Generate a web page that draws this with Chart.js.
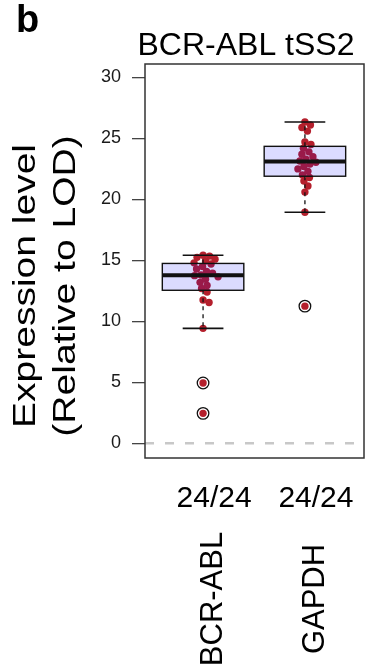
<!DOCTYPE html>
<html>
<head>
<meta charset="utf-8">
<script src="https://cdn.jsdelivr.net/npm/chart.js@4.4.1/dist/chart.umd.min.js"></script>
<style>
  html, body { margin: 0; padding: 0; background: #fff; }
  #wrap { width: 390px; height: 671px; position: relative; }
</style>
</head>
<body>
<div id="wrap"><canvas id="exprChart"></canvas></div>
<script>
const categories = ['BCR-ABL', 'GAPDH'];
const detectedLabels = ['24/24', '24/24'];
const bcrAblValues = [2.46, 4.95, 9.43, 11.55, 11.75, 12.4, 12.7, 12.95, 13.2, 13.45, 13.65, 13.75,
                      13.8, 13.95, 14.1, 14.3, 14.5, 14.7, 14.8, 14.95, 15.1, 15.25, 15.35, 15.42];
const gapdhValues = [11.25, 18.95, 20.6, 21.1, 21.5, 21.8, 22.0, 22.3, 22.5, 22.7, 22.9, 23.05,
                     23.15, 23.3, 23.5, 23.7, 23.9, 24.2, 24.5, 24.7, 25.6, 25.9, 26.1, 26.35];
const yTicks = [0, 5, 10, 15, 20, 25, 30];
const lodLevel = 0;

const groups = [bcrAblValues, gapdhValues];
const FONT = '"Liberation Sans", Arial, Helvetica, sans-serif';

// Tukey five-number summary, same hinges as R's fivenum()
function fivenum(vals) {
  const x = vals.slice().sort((a, b) => a - b);
  const n = x.length;
  const n4 = Math.floor((n + 3) / 2) / 2;
  const d = [1, n4, (n + 1) / 2, n + 1 - n4, n];
  return d.map(p => 0.5 * (x[Math.floor(p) - 1] + x[Math.ceil(p) - 1]));
}

function boxStats(vals) {
  const f = fivenum(vals);
  const q1 = f[1], med = f[2], q3 = f[3];
  const iqr = q3 - q1;
  const inside = vals.filter(v => v >= q1 - 1.5 * iqr && v <= q3 + 1.5 * iqr);
  return {
    q1, med, q3,
    lo: Math.min(...inside),
    hi: Math.max(...inside),
    outliers: vals.filter(v => v < q1 - 1.5 * iqr || v > q3 + 1.5 * iqr)
  };
}

const stats = groups.map(boxStats);

// beeswarm layout in pixel space: each point slides sideways until it stops overlapping
function swarm(pixYs, minDist) {
  const placed = [];
  const out = new Array(pixYs.length).fill(0);
  const order = pixYs.map((y, i) => i).sort((a, b) => pixYs[a] - pixYs[b]);
  for (const i of order) {
    const y = pixYs[i];
    for (let k = 0; k < 400; k++) {
      const dx = k === 0 ? 0 : (k % 2 ? 1 : -1) * Math.ceil(k / 2) * 0.5;
      const ok = placed.every(p => (dx - p.dx) ** 2 + (y - p.y) ** 2 >= minDist * minDist);
      if (ok) { out[i] = dx; placed.push({ dx, y }); break; }
    }
  }
  return out;
}

const boxOverlay = {
  id: 'boxOverlay',
  beforeDatasetsDraw(chart) {
    const { ctx, chartArea: a, scales: { y } } = chart;
    // dashed limit-of-detection line
    const py = y.getPixelForValue(lodLevel);
    ctx.save();
    ctx.strokeStyle = '#c8c8c8';
    ctx.lineWidth = 2.5;
    ctx.setLineDash([9, 11]);
    ctx.beginPath();
    ctx.moveTo(a.left, py);
    ctx.lineTo(a.right, py);
    ctx.stroke();
    ctx.restore();
  },
  afterDatasetsDraw(chart) {
    const { ctx, chartArea: a, scales: { x, y } } = chart;
    const unit = x.getPixelForValue(1) - x.getPixelForValue(0);
    ctx.save();
    stats.forEach((s, i) => {
      const cx = x.getPixelForValue(i + 1);
      const hw = unit * 0.4;
      const cw = unit * 0.2;
      const top = y.getPixelForValue(s.q3);
      const bot = y.getPixelForValue(s.q1);
      // whiskers
      ctx.strokeStyle = '#111';
      ctx.lineWidth = 1.3;
      ctx.setLineDash([4, 4]);
      ctx.beginPath();
      ctx.moveTo(cx, top); ctx.lineTo(cx, y.getPixelForValue(s.hi));
      ctx.moveTo(cx, bot); ctx.lineTo(cx, y.getPixelForValue(s.lo));
      ctx.stroke();
      ctx.setLineDash([]);
      ctx.lineWidth = 1.6;
      ctx.beginPath();
      [s.hi, s.lo].forEach(v => {
        const p = y.getPixelForValue(v);
        ctx.moveTo(cx - cw, p); ctx.lineTo(cx + cw, p);
      });
      ctx.stroke();
      // box
      ctx.fillStyle = 'rgba(0, 0, 255, 0.14)';
      ctx.fillRect(cx - hw, top, hw * 2, bot - top);
      ctx.lineWidth = 1.4;
      ctx.strokeRect(cx - hw, top, hw * 2, bot - top);
      // median
      ctx.lineWidth = 4;
      ctx.beginPath();
      const pm = y.getPixelForValue(s.med);
      ctx.moveTo(cx - hw, pm); ctx.lineTo(cx + hw, pm);
      ctx.stroke();
      // outlier rings
      ctx.lineWidth = 1.3;
      s.outliers.forEach(v => {
        ctx.beginPath();
        ctx.arc(cx, y.getPixelForValue(v), 5.8, 0, Math.PI * 2);
        ctx.stroke();
      });
    });
    // plot frame
    ctx.strokeStyle = '#333';
    ctx.lineWidth = 1.5;
    ctx.strokeRect(a.left, a.top, a.right - a.left, a.bottom - a.top);
    ctx.restore();
  },
  afterDraw(chart) {
    const { ctx, scales: { x } } = chart;
    ctx.save();
    ctx.fillStyle = '#000';
    ctx.textBaseline = 'alphabetic';

    ctx.font = 'bold 38px ' + FONT;
    ctx.textAlign = 'left';
    ctx.fillText('b', 16, 32);

    ctx.font = '32px ' + FONT;
    ctx.textAlign = 'center';
    ctx.fillText('BCR-ABL tSS2', 246, 55);

    // two-line y title, rotated
    ctx.font = '39px ' + FONT;
    [['Expression level', 35], ['(Relative to LOD)', 75]].forEach(([t, bx]) => {
      ctx.save();
      ctx.translate(bx, 286);
      ctx.rotate(-Math.PI / 2);
      ctx.scale(1, 0.78);
      ctx.fillText(t, 0, 0);
      ctx.restore();
    });

    categories.forEach((c, i) => {
      const cx = x.getPixelForValue(i + 1);
      ctx.font = '30px ' + FONT;
      ctx.textAlign = 'center';
      ctx.fillText(detectedLabels[i], cx + 11, 507);
      ctx.save();
      ctx.font = '31px ' + FONT;
      ctx.translate(cx + 19, 599);
      ctx.rotate(-Math.PI / 2);
      ctx.fillText(c, 0, 0);
      ctx.restore();
    });
    ctx.restore();
  }
};

const ctx = document.getElementById('exprChart').getContext('2d');
const exprChart = new Chart(ctx, {
  type: 'scatter',
  data: {
    datasets: groups.map((vals, i) => ({
      label: categories[i],
      data: vals.map(v => ({ x: i + 1, y: v })),
      backgroundColor: '#b41f2c',
      borderWidth: 0,
      pointRadius: 3.7,
      pointHoverRadius: 3.7
    }))
  },
  options: {
    responsive: true,
    maintainAspectRatio: false,
    animation: false,
    layout: { padding: { left: 0, right: 26, top: 64, bottom: 213 } },
    scales: {
      x: { type: 'linear', min: 0.43, max: 2.58, display: false },
      y: {
        type: 'linear',
        min: -1.2,
        max: 31.1,
        afterBuildTicks: s => { s.ticks = yTicks.map(v => ({ value: v })); },
        afterFit: s => { s.width = 145; },
        border: { display: false },
        grid: { drawOnChartArea: false, drawTicks: true, tickLength: 13, color: '#444', lineWidth: 1.3 },
        ticks: { padding: 11, color: '#1a1a1a', font: { family: FONT, size: 18 } }
      }
    },
    plugins: {
      legend: { display: false },
      tooltip: { enabled: false }
    }
  },
  plugins: [boxOverlay]
});

// spread the points of each group into a swarm now that the scales are laid out
(function () {
  const { x, y } = exprChart.scales;
  const unit = x.getPixelForValue(1) - x.getPixelForValue(0);
  groups.forEach((vals, i) => {
    const offs = swarm(vals.map(v => y.getPixelForValue(v)), 6.2);
    exprChart.data.datasets[i].data = vals.map((v, k) => ({ x: i + 1 + offs[k] / unit, y: v }));
  });
  exprChart.update('none');
})();
</script>
</body>
</html>
